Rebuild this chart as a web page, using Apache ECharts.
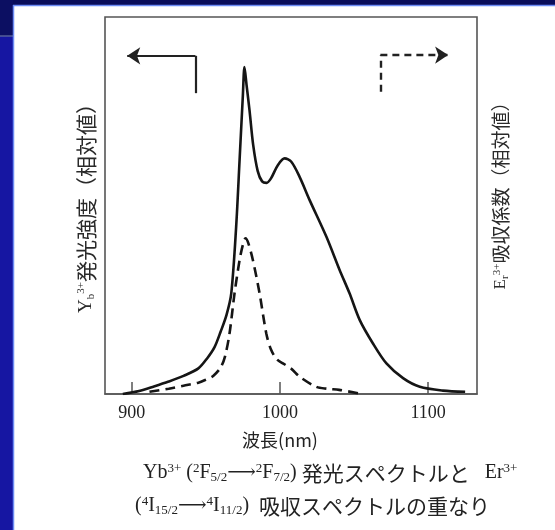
<!DOCTYPE html>
<html>
<head>
<meta charset="utf-8">
<script src="https://cdn.jsdelivr.net/npm/echarts@6/dist/echarts.min.js"></script>
<style>
html,body{margin:0;padding:0;background:#13139c;}
#c{width:555px;height:530px;}
</style>
</head>
<body>
<div id="c"></div>
<script>
// ---- Data ----
const emissionWavelength = [894, 905, 915, 925, 935, 945, 951, 956, 960, 964, 967.2, 970.5, 972.8, 975, 976.1, 977.5, 979.5, 982, 985, 988, 991, 994, 998.6, 1003.2, 1007.7, 1013.3, 1020, 1031.4, 1040.3, 1047, 1053.9, 1062.8, 1071.9, 1083.1, 1094.4, 1110, 1125];
const emissionValue      = [0, 0.8, 2, 3.3, 4.8, 6.8, 9.5, 12.5, 16.5, 21, 26.7, 44.4, 62, 79, 86.7, 82, 75.3, 66, 59.2, 56.4, 56, 57.2, 60.7, 62.5, 61.6, 57.6, 51.5, 41.7, 32.9, 26.7, 19.6, 13.4, 8.1, 4.2, 1.9, 0.9, 0.6];

const absorptionWavelength = [912, 925, 935, 945, 950, 955, 960, 963, 966, 969.4, 972.8, 975, 976.8, 978.7, 981.8, 986.3, 990.8, 994, 998, 1003, 1008, 1013.3, 1024.6, 1032, 1040, 1052.7];
const absorptionValue      = [0.6, 1.4, 2.2, 3, 3.8, 4.8, 7, 10, 16, 26.7, 35.5, 39.5, 41.3, 40, 35.5, 26.7, 16.1, 11.8, 9.2, 7.9, 6.6, 4.6, 1.9, 1.4, 1.1, 0.2];

const xTickValues = [900, 1000, 1100];
const xTickLabels = ['900', '1000', '1100'];

// direction-indicator arrows (annotation, in data units): stem then arrow shaft
const emissionArrowStem    = [[943, 79.8], [943, 89.7]];
const emissionArrowShaft   = [[943, 89.7], [897, 89.7]];
const absorptionArrowStem  = [[1067.8, 80.2], [1067.8, 89.9]];
const absorptionArrowShaft = [[1067.8, 89.9], [1113.5, 89.9]];

const xAxisName = '波長(nm)';
const leftAxisText  = '発光強度（相対値）';
const rightAxisText = '吸収係数（相対値）';

// ---- Chart ----
const chart = echarts.init(document.getElementById('c'), null, {renderer: 'canvas'});

const serif = "'Liberation Serif','DejaVu Serif','Noto Sans CJK JP'";
const jp = "'Noto Sans CJK JP','Liberation Serif'";

const pairs = (xs, ys) => xs.map((x, i) => [x, ys[i]]);

function vLabel(x, y, a, b, rest, size) {
  return {
    type: 'text', x: x, y: y, rotation: Math.PI / 2, z: 10,
    style: {
      text: '{b|' + a + '}{sub|' + b + '}{sup|3+}{j|' + rest + '}', align: 'center', verticalAlign: 'middle',
      fill: '#2a2a2a',
      rich: {
        b: {fontSize: size - 2, fontFamily: serif, fill: '#2a2a2a', lineHeight: size},
        sub: {fontSize: 11, fontFamily: serif, verticalAlign: 'bottom', fill: '#2a2a2a', lineHeight: size},
        sup: {fontSize: 11, fontFamily: serif, verticalAlign: 'top', fill: '#2a2a2a', lineHeight: size},
        j: {fontSize: size, fontFamily: jp, fill: '#2a2a2a', lineHeight: size}
      }
    }
  };
}

const capRich = {
  t: {fontSize: 20, fontFamily: serif, fill: '#222', lineHeight: 22},
  j: {fontSize: 21, fontFamily: jp, fill: '#222', lineHeight: 22},
  sup: {fontSize: 13, fontFamily: serif, fill: '#222', verticalAlign: 'top', lineHeight: 22},
  sub: {fontSize: 13, fontFamily: serif, fill: '#222', verticalAlign: 'bottom', lineHeight: 22}
};

function arrowSeries(coords, dashed, withHead) {
  return {
    type: 'lines', coordinateSystem: 'cartesian2d', z: 6,
    symbol: withHead ? ['none', 'arrow'] : ['none', 'none'], symbolSize: [10, 13],
    lineStyle: {color: '#222', width: dashed ? 2.4 : 2.2, type: dashed ? [7, 5] : 'solid', opacity: 1, curveness: 0},
    data: [{coords: coords}]
  };
}

const option = {
  backgroundColor: '#13139c',
  animation: false,
  grid: {left: 105, right: 78, top: 17, bottom: 136, show: true, borderColor: '#555', borderWidth: 1.6, backgroundColor: 'transparent', z: 5},
  xAxis: {
    type: 'value', min: 882, max: 1133,
    axisLine: {show: true, lineStyle: {color: '#555', width: 1.6}},
    axisTick: {show: true, inside: true, length: 12, customValues: xTickValues, lineStyle: {color: '#555', width: 1.5}},
    axisLabel: {show: true, customValues: xTickValues, formatter: v => xTickLabels[xTickValues.indexOf(v)], color: '#222', fontSize: 18, fontFamily: serif, margin: 10},
    splitLine: {show: false}
  },
  yAxis: {
    type: 'value', min: 0, max: 100,
    axisLine: {show: false}, axisTick: {show: false}, axisLabel: {show: false}, splitLine: {show: false}
  },
  graphic: [
    {type: 'rect', z: -10, shape: {x: 0, y: 0, width: 555, height: 5}, style: {fill: '#0a0d5a'}},
    {type: 'rect', z: -10, shape: {x: 0, y: 0, width: 13, height: 36}, style: {fill: '#0c0f62'}},
    {type: 'rect', z: -10, shape: {x: 0, y: 36, width: 13, height: 494}, style: {fill: '#1616a2'}},
    {type: 'line', z: -9, shape: {x1: 0, y1: 36, x2: 13, y2: 36}, style: {stroke: '#55609a', lineWidth: 1.5}},
    {type: 'rect', z: -9, shape: {x: 13, y: 5, width: 542, height: 525}, style: {fill: '#ffffff'}},
    {type: 'line', z: -8, shape: {x1: 13.5, y1: 5, x2: 13.5, y2: 530}, style: {stroke: '#6d8cf5', lineWidth: 1.5}},
    {type: 'line', z: -8, shape: {x1: 13, y1: 5.5, x2: 555, y2: 5.5}, style: {stroke: '#6d8cf5', lineWidth: 1.5}},
    vLabel(86, 203, 'Y', 'b', leftAxisText, 21),
    vLabel(501, 191, 'E', 'r', rightAxisText, 19),
    {
      type: 'text', x: 280, y: 440, z: 10,
      style: {text: xAxisName, align: 'center', verticalAlign: 'middle', fill: '#222', font: "18px 'Noto Sans CJK JP','Liberation Serif'"}
    },
    {
      type: 'text', x: 143, y: 473, z: 10,
      style: {
        text: '{t|Yb}{sup|3+}{t| (}{sup|2}{t|F}{sub|5/2}{t|⟶}{sup|2}{t|F}{sub|7/2}{t|) }{j|発光スペクトルと}{t|   Er}{sup|3+}',
        align: 'left', verticalAlign: 'middle', fill: '#222', rich: capRich
      }
    },
    {
      type: 'text', x: 135, y: 506, z: 10,
      style: {
        text: '{t|(}{sup|4}{t|I}{sub|15/2}{t|⟶}{sup|4}{t|I}{sub|11/2}{t|)  }{j|吸収スペクトルの重なり}',
        align: 'left', verticalAlign: 'middle', fill: '#222', rich: capRich
      }
    }
  ],
  series: [
    {
      type: 'line', name: 'Yb emission', data: pairs(emissionWavelength, emissionValue),
      showSymbol: false, smooth: 0.3, z: 6,
      lineStyle: {color: '#151515', width: 2.6}
    },
    {
      type: 'line', name: 'Er absorption', data: pairs(absorptionWavelength, absorptionValue),
      showSymbol: false, smooth: 0.3, z: 6,
      lineStyle: {color: '#151515', width: 2.6, type: [10, 6]}
    },
    arrowSeries(emissionArrowStem, false, false),
    arrowSeries(emissionArrowShaft, false, true),
    arrowSeries(absorptionArrowStem, true, false),
    arrowSeries(absorptionArrowShaft, true, true)
  ]
};
chart.setOption(option);
</script>
</body>
</html>
